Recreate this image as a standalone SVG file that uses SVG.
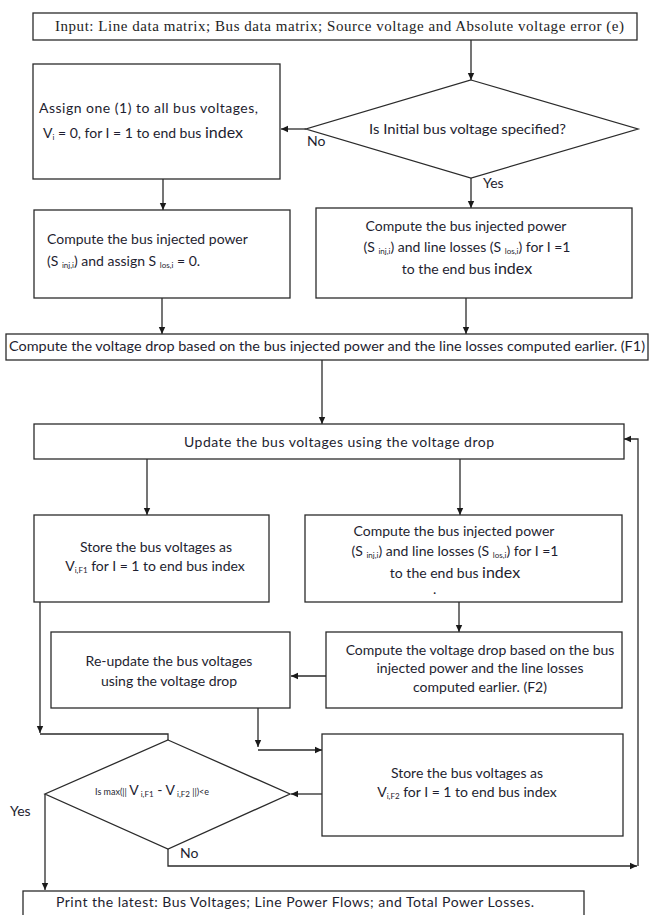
<svg xmlns="http://www.w3.org/2000/svg" width="662" height="915" viewBox="0 0 662 915">
<style>
.box{fill:#fff;stroke:#2b2b2b;stroke-width:1.3}
.ln{fill:none;stroke:#2b2b2b;stroke-width:1.3}
.t{font-family:Lato,"Open Sans","Liberation Sans",sans-serif;font-size:14px;fill:#1e1e30}
.c{text-anchor:middle}
.serif{font-family:"Liberation Serif","Times New Roman",serif;font-size:15px;fill:#1e1e1e}
.sub{font-size:8px}
.big{font-size:16px}
.tiny{font-size:9px}
</style>
<defs>
<marker id="ah" markerWidth="8" markerHeight="8" refX="7" refY="4" orient="auto" markerUnits="userSpaceOnUse">
<path d="M0,0.8 L7,4 L0,7.2 Z" fill="#1a1a1a"/>
</marker>
</defs>
<rect width="662" height="915" fill="#fff"/>

<g id="connectors">
<line class="ln" x1="471" y1="40" x2="471" y2="80" marker-end="url(#ah)"/>
<line class="ln" x1="306" y1="129" x2="281" y2="129" marker-end="url(#ah)"/>
<line class="ln" x1="471" y1="178" x2="471" y2="208" marker-end="url(#ah)"/>
<line class="ln" x1="163" y1="179" x2="163" y2="210" marker-end="url(#ah)"/>
<line class="ln" x1="162" y1="298" x2="162" y2="334" marker-end="url(#ah)"/>
<line class="ln" x1="466" y1="298" x2="466" y2="334" marker-end="url(#ah)"/>
<line class="ln" x1="322" y1="360" x2="322" y2="424" marker-end="url(#ah)"/>
<line class="ln" x1="147" y1="459" x2="147" y2="515" marker-end="url(#ah)"/>
<line class="ln" x1="460" y1="459" x2="460" y2="515" marker-end="url(#ah)"/>
<line class="ln" x1="459" y1="602" x2="459" y2="632" marker-end="url(#ah)"/>
<line class="ln" x1="326" y1="676" x2="291" y2="676" marker-end="url(#ah)"/>
<line class="ln" x1="40" y1="602" x2="40" y2="733" marker-end="url(#ah)"/>
<polyline class="ln" points="40,734 168,734 168,740"/>
<line class="ln" x1="258" y1="708" x2="258" y2="747" marker-end="url(#ah)"/>
<line class="ln" x1="258" y1="750" x2="322" y2="750" marker-end="url(#ah)"/>
<line class="ln" x1="322" y1="794" x2="291" y2="794" marker-end="url(#ah)"/>
<line class="ln" x1="45" y1="794" x2="45" y2="890" marker-end="url(#ah)"/>
<polyline class="ln" points="168,849 168,866 637,866" marker-end="url(#ah)"/>
<polyline class="ln" points="638,866 638,439 624,439" marker-end="url(#ah)"/>
<text class="t" x="307" y="146">No</text>
<text class="t" x="483" y="188">Yes</text>
<text class="t" x="10" y="816">Yes</text>
<text class="t" x="180" y="858">No</text>
</g>

<g id="input">
<rect class="box" x="33" y="13" width="604" height="27"/>
<text class="serif" x="55" y="31" textLength="569" lengthAdjust="spacing">Input: Line data matrix; Bus data matrix; Source voltage and Absolute voltage error  (e)</text>
</g>

<g id="decision1">
<polygon class="box" points="471,80 638,129 471,178 306,129"/>
<text class="t" x="369" y="134" font-size="13" textLength="197" lengthAdjust="spacingAndGlyphs">Is Initial bus voltage specified?</text>
</g>

<g id="assign">
<rect class="box" x="33" y="64" width="247" height="115"/>
<text class="t" x="39" y="113" textLength="219" lengthAdjust="spacing">Assign one (1) to all bus voltages,</text>
<text class="t" x="43" y="138">V<tspan class="sub" dy="2">i</tspan><tspan dy="-2"> = 0,  for I = 1 to end bus </tspan><tspan class="big">index</tspan></text>
</g>

<g id="compute-left">
<rect class="box" x="34" y="210" width="256" height="88"/>
<text class="t" x="47" y="244">Compute the bus injected  power</text>
<text class="t" x="47" y="266">(S <tspan class="sub" dy="2">inj,i</tspan><tspan dy="-2">) and assign S </tspan><tspan class="sub" dy="2">los,i</tspan><tspan dy="-2"> = 0.</tspan></text>
</g>

<g id="compute-right">
<rect class="box" x="316" y="208" width="316" height="90"/>
<text class="t c" x="466" y="231">Compute the bus injected  power</text>
<text class="t c" x="467" y="252">(S <tspan class="sub" dy="2">inj,i</tspan><tspan dy="-2">) and line losses (S </tspan><tspan class="sub" dy="2">los,i</tspan><tspan dy="-2">) for I =1</tspan></text>
<text class="t c" x="467" y="274">to the end bus <tspan class="big">index</tspan></text>
</g>

<g id="voltage-drop-f1">
<rect class="box" x="6" y="334" width="642" height="26"/>
<text class="t" x="9" y="351" font-size="13" textLength="636" lengthAdjust="spacingAndGlyphs">Compute the voltage drop based on the bus injected power and the line losses computed earlier. (F1)</text>
</g>

<g id="update">
<rect class="box" x="34" y="424" width="590" height="35"/>
<text class="t" x="184" y="447" textLength="310" lengthAdjust="spacing">Update the bus voltages using the voltage drop</text>
</g>

<g id="store-f1">
<rect class="box" x="34" y="515" width="235" height="87"/>
<text class="t c" x="156" y="552">Store the bus voltages as</text>
<text class="t c" x="155" y="571">V<tspan class="sub" dy="2">i,F1</tspan><tspan dy="-2"> for I = 1 to end bus index</tspan></text>
</g>

<g id="compute-2">
<rect class="box" x="305" y="515" width="317" height="87"/>
<text class="t c" x="454" y="536">Compute the bus injected  power</text>
<text class="t c" x="455" y="556">(S <tspan class="sub" dy="2">inj,i</tspan><tspan dy="-2">) and line losses (S </tspan><tspan class="sub" dy="2">los,i</tspan><tspan dy="-2">) for I =1</tspan></text>
<text class="t c" x="455" y="578">to the end bus <tspan class="big">index</tspan></text>
<text class="t" x="433" y="594" font-size="8">.</text>
</g>

<g id="voltage-drop-f2">
<rect class="box" x="326" y="632" width="296" height="76"/>
<text class="t c" x="480" y="655">Compute the voltage drop based on the bus</text>
<text class="t c" x="480" y="673">injected power and the line losses</text>
<text class="t c" x="480" y="692">computed earlier. (F2)</text>
</g>

<g id="reupdate">
<rect class="box" x="51" y="632" width="239" height="76"/>
<text class="t c" x="169" y="666">Re-update the bus voltages</text>
<text class="t c" x="169" y="686">using the voltage drop</text>
</g>

<g id="store-f2">
<rect class="box" x="322" y="734" width="301" height="102"/>
<text class="t c" x="467" y="778">Store the bus voltages as</text>
<text class="t c" x="467" y="797">V<tspan class="sub" dy="2">i,F2</tspan><tspan dy="-2">   for I = 1 to end bus index</tspan></text>
</g>

<g id="decision2">
<polygon class="box" points="168,740 290,794 168,849 45,794"/>
<text class="t" x="95" y="795"><tspan class="tiny">Is max(|| </tspan><tspan font-size="14">V</tspan><tspan class="sub" dy="2"> i,F1</tspan><tspan dy="-2" font-size="14"> - V</tspan><tspan class="sub" dy="2"> i,F2</tspan><tspan dy="-2" class="tiny"> ||)&lt;e</tspan></text>
</g>

<g id="print">
<rect class="box" x="23" y="891" width="561" height="30"/>
<text class="t" x="56" y="907" textLength="478" lengthAdjust="spacing">Print the latest: Bus Voltages; Line Power Flows; and Total Power Losses.</text>
</g>
</svg>
